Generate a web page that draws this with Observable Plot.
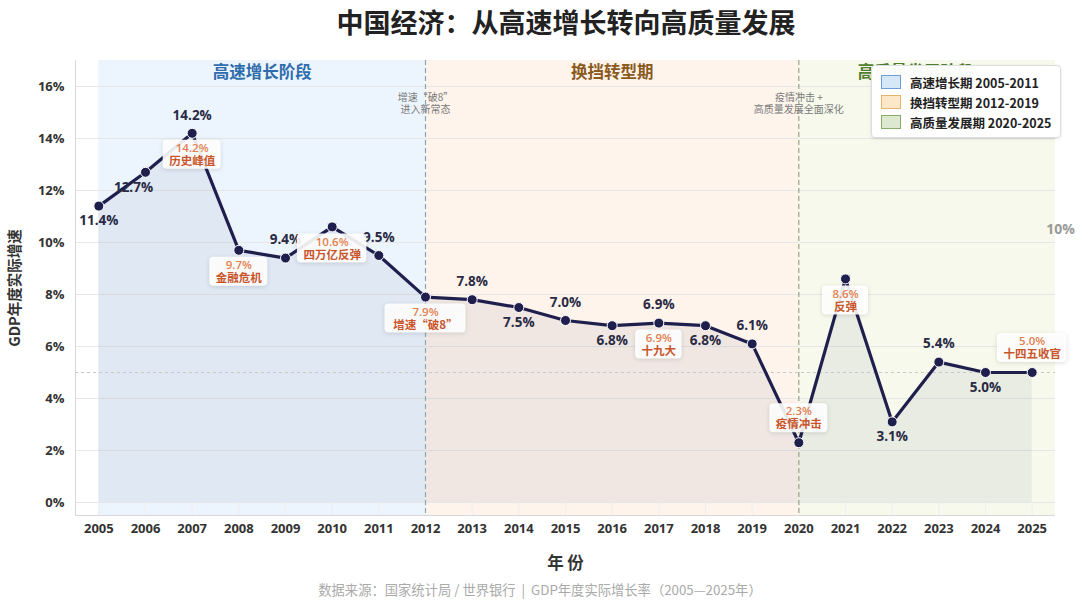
<!DOCTYPE html>
<html><head><meta charset="utf-8">
<script src="https://cdn.jsdelivr.net/npm/d3@7"></script>
<script src="https://cdn.jsdelivr.net/npm/@observablehq/plot@0.6"></script>
<style>
body{margin:0;background:#fff;font-family:"Open Sans","Noto Sans CJK SC",sans-serif;width:1080px;height:608px;overflow:hidden;position:relative}
#title{height:44px;line-height:44px;text-align:center;font-size:27px;font-weight:bold;color:#222;font-family:"Noto Sans CJK SC",sans-serif;padding-left:52px;box-sizing:border-box;width:1080px}
#chart{height:530px}
#caption{height:34px;line-height:32px;text-align:center;font-size:13.3px;color:#aaa;font-family:"Noto Sans CJK SC",sans-serif}
#legend{position:absolute;left:871px;top:65px;width:190px;height:73px;background:rgba(255,255,255,0.96);border:1px solid #ddd;border-radius:4px;box-shadow:0 1px 3px rgba(0,0,0,.12);box-sizing:border-box}
.li{position:absolute;left:9px;height:20px;display:flex;align-items:center;font-size:12.5px;font-weight:bold;color:#222;font-family:"Noto Sans CJK SC",sans-serif;white-space:nowrap}
.sw{width:20px;height:14px;box-sizing:border-box;margin-right:9px;border:1.5px solid}
</style></head>
<body>
<div id="title">中国经济：从高速增长转向高质量发展</div>
<div id="chart"></div>
<div id="caption">数据来源：国家统计局 / 世界银行 &nbsp;|&nbsp; GDP年度实际增长率（2005—2025年）</div>
<div id="legend"></div>
<script>
const years = [2005,2006,2007,2008,2009,2010,2011,2012,2013,2014,2015,2016,2017,2018,2019,2020,2021,2022,2023,2024,2025];
const gdp = [11.4,12.7,14.2,9.7,9.4,10.6,9.5,7.9,7.8,7.5,7.0,6.8,6.9,6.8,6.1,2.3,8.6,3.1,5.4,5.0,5.0];
const yTicks = [0,2,4,6,8,10,12,14,16];

const labelsAbove = [2007,2009,2011,2013,2015,2017,2019,2023];
const labelsBelow = [2005,2006,2014,2016,2018,2022,2024];

const annoYears = [2007,2008,2010,2012,2017,2020,2021,2025];
const annoNames = ["历史峰值","金融危机","四万亿反弹","增速\u201c破8\u201d","十九大","疫情冲击","反弹","十四五收官"];
const annoAboveYears = [2020,2025];

const phaseNames = ["高速增长阶段","换挡转型期","高质量发展阶段"];
const phaseStart = [2005,2012,2020];
const phaseEnd = [2012,2020,2025];
const legendNames = ["高速增长期 2005-2011","换挡转型期 2012-2019","高质量发展期 2020-2025"];

const noteYears = [2012,2020];
const noteTexts = ["增速\u201c破8\u201d\n进入新常态","疫情冲击 +\n高质量发展全面深化"];

const refLine = 5;
const refText = "10%";

// ---- derived tables ----
const data = years.map((year,i)=>({year, gdp:gdp[i]}));
const byYear = new Map(data.map(d=>[d.year,d]));
const xMin = 2004.5, xMax = 2025.5;
const phaseFill = ["#ecf5fd","#fef4ec","#f6f9eb"];
const phaseText = ["#2f6cae","#8a5a1c","#4f7f31"];
const phases = phaseNames.map((name,i)=>({name, start:phaseStart[i], end:phaseEnd[i], fill:phaseFill[i], color:phaseText[i]}));
const annos = annoYears.map((y,i)=>({year:y, gdp:byYear.get(y).gdp, name:annoNames[i], above:annoAboveYears.includes(y)}));
const annosAbove = annos.filter(a=>a.above), annosBelow = annos.filter(a=>!a.above);
const navy = "#1f1f4e";
const orange1 = "#e2814f", orange2 = "#c9552b";

function annoBoxes(index, scales) {
  const g = d3.create("svg:g");
  annos.forEach(a => {
    const px = scales.x(a.year), py = scales.y(a.gdp);
    const w = Math.max(a.name.length * 11.5, 34) + 12;
    const h = 29;
    const cy = a.above ? py - 24.5 : py + 21.5;
    g.append("rect").attr("x", px - w/2).attr("y", cy - h/2).attr("width", w).attr("height", h)
      .attr("rx", 4).attr("fill", "white").attr("fill-opacity", 0.9)
      .style("filter", "drop-shadow(0 1px 2px rgba(0,0,0,0.14))");
  });
  return g.node();
}

const plot = Plot.plot({
  width: 1080, height: 530,
  marginTop: 16, marginBottom: 59, marginLeft: 75, marginRight: 25,
  style: {fontFamily: '"Open Sans","Noto Sans CJK SC",sans-serif', color: "#333", background: "transparent"},
  x: {type: "linear", domain: [xMin, xMax]},
  y: {domain: [-0.5, 17]},
  marks: [
    Plot.rect(phases, {x1: "start", x2: (d,i)=> i === phases.length-1 ? xMax : d.end, y1: -0.5, y2: 17, fill: "fill"}),
    Plot.ruleY(yTicks, {stroke: "#e6e6e6", strokeWidth: 1}),
    Plot.ruleX(years, {stroke: "#eeeeee", strokeWidth: 0.8, y1: -0.5, y2: 0}),
    Plot.ruleX([xMin], {stroke: "#d8d8d8"}),
    Plot.ruleY([-0.5], {stroke: "#d8d8d8"}),
    Plot.areaY(data, {x: "year", y: "gdp", fill: "#3e4c74", fillOpacity: 0.07}),
    Plot.ruleY([refLine], {stroke: "#c8c8c8", strokeDasharray: "3,3", strokeWidth: 1}),
    Plot.ruleX(noteYears, {stroke: (d,i)=> i===0 ? "#86aab4" : "#98a587", strokeDasharray: "5,3", strokeWidth: 1.2}),
    Plot.text(noteYears, {x: d=>d, y: 15.35, text: (d,i)=>noteTexts[i], fontSize: 10, fill: "#7a7a7a", lineHeight: 1.15, fontFamily: '"Noto Sans CJK SC",sans-serif'}),
    Plot.text(phases, {x: d=>(d.start+d.end)/2, frameAnchor: "top", lineAnchor: "middle", dy: 12, text: "name", fill: "color", fontSize: 16.5, fontWeight: "bold", fontFamily: '"Noto Sans CJK SC",sans-serif'}),
    Plot.line(data, {x: "year", y: "gdp", stroke: navy, strokeWidth: 3.2}),
    Plot.dot(data, {x: "year", y: "gdp", r: 5, fill: navy, stroke: "white", strokeWidth: 1}),
    Plot.text(data.filter(d=>labelsAbove.includes(d.year)), {x: "year", y: "gdp", text: d=>d.gdp.toFixed(1)+"%", dy: -18, fontSize: 13.5, fontWeight: "bold", fill: "#2a2a44"}),
    Plot.text(data.filter(d=>labelsBelow.includes(d.year) && d.year !== 2006), {x: "year", y: "gdp", text: d=>d.gdp.toFixed(1)+"%", dy: 15, fontSize: 13.5, fontWeight: "bold", fill: "#2a2a44"}),
    Plot.text(data.filter(d=>d.year === 2006), {x: "year", y: "gdp", text: d=>d.gdp.toFixed(1)+"%", dy: 15, dx: -12, fontSize: 13.5, fontWeight: "bold", fill: "#2a2a44"}),
    annoBoxes,
    Plot.text(annosBelow, {x: "year", y: "gdp", text: d=>d.gdp.toFixed(1)+"%", dy: 15, fontSize: 11.5, fontWeight: 600, fill: orange1}),
    Plot.text(annosBelow, {x: "year", y: "gdp", text: "name", dy: 28, fontSize: 11.5, fontWeight: "bold", fill: orange2, fontFamily: '"Noto Sans CJK SC",sans-serif'}),
    Plot.text(annosAbove, {x: "year", y: "gdp", text: d=>d.gdp.toFixed(1)+"%", dy: -31, fontSize: 11.5, fontWeight: 600, fill: orange1}),
    Plot.text(annosAbove, {x: "year", y: "gdp", text: "name", dy: -18, fontSize: 11.5, fontWeight: "bold", fill: orange2, fontFamily: '"Noto Sans CJK SC",sans-serif'}),
    Plot.text([refText], {x: xMax, y: 10.5, dx: 5, text: d=>d, fontSize: 14, fontWeight: "bold", fill: "#9a9a9a"}),
    Plot.axisX({ticks: years, tickFormat: d=>String(d), tickSize: 0, tickPadding: 8, fontSize: 13, fontWeight: "bold", label: null}),
    Plot.axisY({ticks: yTicks, tickFormat: d=>d+"%", tickSize: 0, tickPadding: 11, fontSize: 13, fontWeight: "bold", label: null}),
    Plot.text(["年 份"], {frameAnchor: "bottom", lineAnchor: "middle", textAnchor: "middle", dy: 48, text: d=>d, fontSize: 16.5, fontWeight: "bold", fill: "#333", fontFamily: '"Noto Sans CJK SC",sans-serif'}),
    Plot.text(["GDP年度实际增速"], {frameAnchor: "left", textAnchor: "middle", lineAnchor: "middle", dx: -60, rotate: -90, text: d=>d, fontSize: 14.5, fontWeight: "bold", fill: "#333", fontFamily: '"Noto Sans CJK SC",sans-serif'})
  ]
});
document.getElementById("chart").appendChild(plot);

// legend
const swFill = ["#d6e7f8","#fde7c9","#dce9d0"];
const swStroke = ["#6d9ed6","#e8b36a","#86ad6a"];
const leg = document.getElementById("legend");
legendNames.forEach((name,i)=>{
  const row = document.createElement("div");
  row.className = "li";
  row.style.top = (6 + i*20) + "px";
  const sw = document.createElement("div");
  sw.className = "sw";
  sw.style.background = swFill[i];
  sw.style.borderColor = swStroke[i];
  row.appendChild(sw);
  row.appendChild(document.createTextNode(name));
  leg.appendChild(row);
});
</script>
</body></html>
